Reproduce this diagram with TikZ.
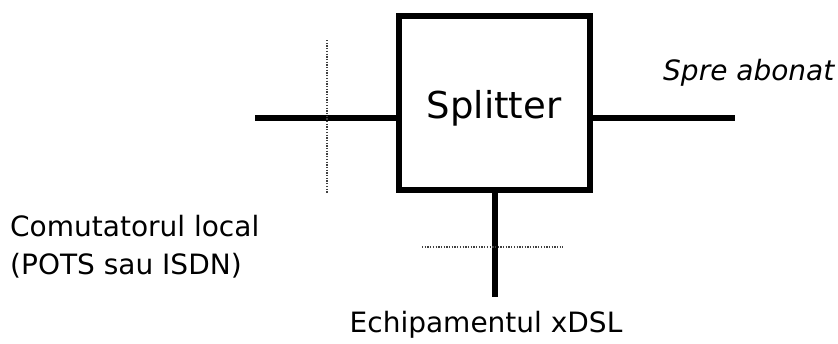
\documentclass[tikz,border=0pt]{standalone}
\usepackage{fontspec}
\setmainfont{DejaVu Sans}
\begin{document}
\begin{tikzpicture}[x=1pt,y=-1pt,
  wire/.style={line width=6pt},
  dotline/.style={line width=1.3pt, dash pattern=on 1.3pt off 1.4pt, black!75},
  lbl/.style={inner sep=0pt, font=\fontsize{28}{36}\selectfont},
  boxstyle/.style={draw, line width=6pt, minimum width=191pt, minimum height=174pt, inner sep=0pt}]
\useasboundingbox (0,0) rectangle (838,343);
\node[boxstyle] (split) at (494.5,103) {};
\node[inner sep=0pt, anchor=base, font=\fontsize{37}{44}\selectfont] (splittxt) at (494,118) {Splitter};
\coordinate (lend) at (255,118);
\coordinate (rend) at (735,118);
\coordinate (bend) at (494.5,297);
\draw[wire] (lend) -- (lend -| split.west);
\draw[wire] (split.east |- rend) -- (rend);
\draw[wire] (split.south) -- (bend);
\coordinate (vt) at (327,40);
\coordinate (vb) at (327,193);
\coordinate (hl) at (422,247);
\coordinate (hr) at (563,247);
\draw[dotline] (vt) -- (vb);
\draw[dotline] (hl) -- (hr);
\node[lbl, anchor=base west, font=\fontsize{28}{36}\selectfont\itshape] (abonat) at (663,80) {Spre abonat};
\node[lbl, anchor=base west] (comut) at (10,236) {Comutatorul local};
\node[lbl, anchor=base west] (pots) at (10,274) {(POTS sau ISDN)};
\node[lbl, anchor=base] (xdsl) at (486,332) {Echipamentul xDSL};
\end{tikzpicture}
\end{document}
